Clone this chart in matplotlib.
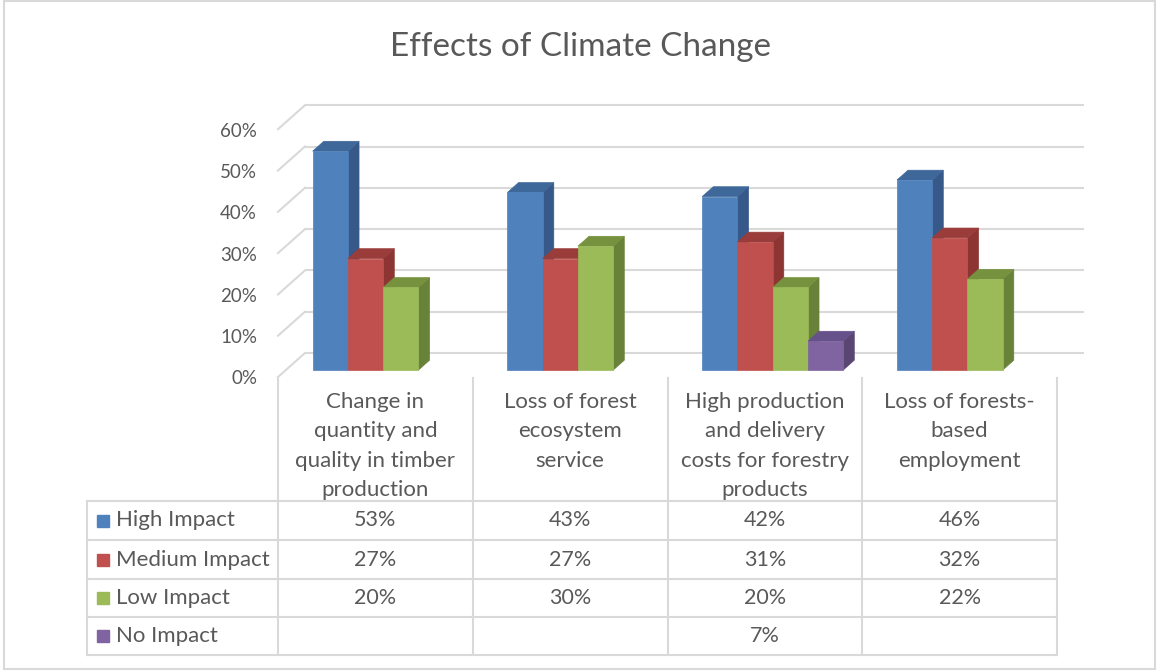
"""
Effects of Climate Change - 3D style clustered column chart with data table.
"""
import matplotlib
matplotlib.use("Agg")
import matplotlib.pyplot as plt
from matplotlib.patches import Polygon, Rectangle
from matplotlib.transforms import offset_copy

plt.rcParams["font.family"] = ["Lato", "DejaVu Sans"]

# ---- data ----
categories = [
    "Change in\nquantity and\nquality in timber\nproduction",
    "Loss of forest\necosystem\nservice",
    "High production\nand delivery\ncosts for forestry\nproducts",
    "Loss of forests-\nbased\nemployment",
]
series_names = ["High Impact", "Medium Impact", "Low Impact", "No Impact"]
high_impact = [0.53, 0.43, 0.42, 0.46]
medium_impact = [0.27, 0.27, 0.31, 0.32]
low_impact = [0.20, 0.30, 0.20, 0.22]
no_impact = [None, None, 0.07, None]
y_ticks = [0.0, 0.1, 0.2, 0.3, 0.4, 0.5, 0.6]

series_values = [high_impact, medium_impact, low_impact, no_impact]
front_colors = ["#4F81BD", "#C0504D", "#9BBB59", "#8064A2"]
side_colors = ["#36598A", "#8C3533", "#68823A", "#594672"]
top_colors = ["#3E6899", "#9A3D3A", "#77923F", "#66518A"]

TEXT = "#595959"
GRID = "#D9D9D9"

W, H = 1157, 672


def fx(px):
    return px / W


def fy(py):
    return 1 - py / H


fig = plt.figure(figsize=(W / 100, H / 100), dpi=100)
fig.patch.set_facecolor("white")

# outer chart border
fig.add_artist(Rectangle((fx(4), fy(669)), fx(1155) - fx(4), fy(1) - fy(669),
                         transform=fig.transFigure, fill=False,
                         edgecolor=GRID, linewidth=1.5))

fig.text(fx(580), fy(47), "Effects of Climate Change", ha="center",
         va="center", fontsize=24, color=TEXT)

# ---- chart area: front floor plane, x in categories, y in value ----
front_top = 129.2
ax = fig.add_axes([fx(278), fy(377), fx(1057) - fx(278), fy(front_top) - fy(377)])
ax.set_xlim(0, len(categories))
ax.set_ylim(0, 0.6)
ax.axis("off")

# depth vector (front -> back wall) in data units
DX = 27 / ((1057 - 278) / len(categories))
DY = 24 / ((377 - front_top) / 0.6)


def proj(x, y, z):
    return x + z * DX, y + z * DY


# back wall gridlines and side diagonals
for t in y_ticks:
    x0, y0 = proj(0, t, 1)
    x1, y1 = proj(len(categories), t, 1)
    ax.plot([x0, x1], [y0, y1], color=GRID, lw=1.5, zorder=1, clip_on=False,
            solid_capstyle="butt")
    xa, ya = proj(0, t, 0)
    ax.plot([xa, x0], [ya, y0], color=GRID, lw=1.5, zorder=1, clip_on=False)
    ax.text(0, t, f"{int(round(t * 100))}%",
            transform=offset_copy(ax.transData, fig=fig, x=-21, y=-2, units="dots"),
            ha="right", va="center", fontsize=13.5, color=TEXT)

# bars
bar_w = 0.181
gap = (1 - bar_w * len(series_values)) / 2
z_front, z_back = 0.29, 0.70
for s, vals in enumerate(series_values):
    for c, v in enumerate(vals):
        if v is None:
            continue
        x0 = c + gap + s * bar_w
        x1 = x0 + bar_w
        base = 10 + s * 3
        side = [proj(x1, 0, z_front), proj(x1, v, z_front),
                proj(x1, v, z_back), proj(x1, 0, z_back)]
        top = [proj(x0, v, z_front), proj(x1, v, z_front),
               proj(x1, v, z_back), proj(x0, v, z_back)]
        front = [proj(x0, 0, z_front), proj(x1, 0, z_front),
                 proj(x1, v, z_front), proj(x0, v, z_front)]
        ax.add_patch(Polygon(side, closed=True, facecolor=side_colors[s],
                             edgecolor=side_colors[s], lw=0.5, zorder=base,
                             clip_on=False))
        ax.add_patch(Polygon(top, closed=True, facecolor=top_colors[s],
                             edgecolor=top_colors[s], lw=0.5, zorder=base + 1,
                             clip_on=False))
        ax.add_patch(Polygon(front, closed=True, facecolor=front_colors[s],
                             edgecolor=front_colors[s], lw=0.5, zorder=base + 2,
                             clip_on=False))

# ---- data table: x in categories, y in pixels from top ----
tab = fig.add_axes([fx(278), fy(655), fx(1057) - fx(278), fy(377) - fy(655)])
tab.set_xlim(0, len(categories))
tab.set_ylim(655, 377)
tab.axis("off")

row_edges = [501, 540, 579, 617, 655]
left_edge = (87 - 278) / ((1057 - 278) / len(categories))

for ry in row_edges:
    tab.plot([left_edge, len(categories)], [ry, ry], color=GRID, lw=1.5,
             clip_on=False, solid_capstyle="projecting")
tab.plot([left_edge, left_edge], [row_edges[0], row_edges[-1]], color=GRID,
         lw=1.5, clip_on=False)
for c in range(len(categories) + 1):
    tab.plot([c, c], [378, row_edges[-1]], color=GRID, lw=1.5, clip_on=False)

for c, label in enumerate(categories):
    tab.text(c + 0.5, 391.5, label, ha="center", va="top", fontsize=16,
             color=TEXT, linespacing=1.6)

key_x = (103 - 278) / ((1057 - 278) / len(categories))
name_x = (116 - 278) / ((1057 - 278) / len(categories))
for s, name in enumerate(series_names):
    yc = (row_edges[s] + row_edges[s + 1]) / 2
    tab.plot([key_x], [yc], marker="s", markersize=9, color=front_colors[s],
             clip_on=False)
    tab.text(name_x, yc, name, ha="left", va="center", fontsize=16,
             color=TEXT)
    for c, v in enumerate(series_values[s]):
        if v is None:
            continue
        tab.text(c + 0.5, yc, f"{int(round(v * 100))}%", ha="center",
                 va="center", fontsize=15.5, color=TEXT)

fig.savefig("out.png", dpi=100, facecolor=fig.get_facecolor())
